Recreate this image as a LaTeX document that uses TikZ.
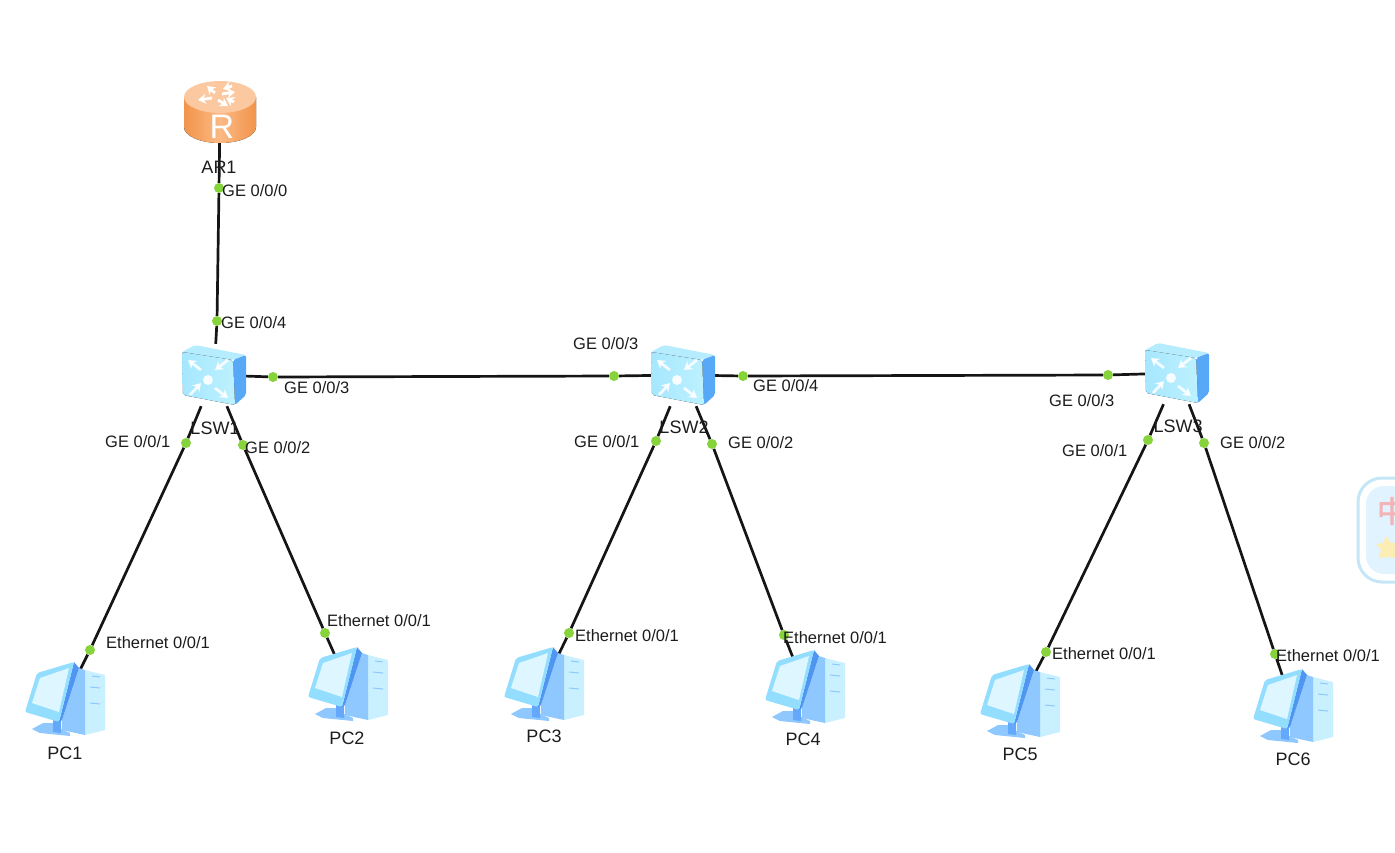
\documentclass[tikz,border=0pt]{standalone}
\usepackage{fontspec}
\usepackage{xcolor}
\setmainfont{Liberation Sans}
\newfontfamily\cjkfont[FakeBold=2.5]{Noto Sans CJK SC}
\usetikzlibrary{arrows.meta}
\definecolor{linkblack}{HTML}{151515}
\definecolor{portgreen}{HTML}{86D33C}
\definecolor{textgrey}{HTML}{1C1C1C}
\definecolor{routerside}{HTML}{F2944A}
\definecolor{routermid}{HTML}{FBB985}
\definecolor{routertop}{HTML}{FBC8A0}
\definecolor{switchfront}{HTML}{A6E7FF}
\definecolor{switchlight}{HTML}{BDF1FF}
\definecolor{switchtop}{HTML}{B5ECFE}
\definecolor{switchright}{HTML}{58A8F8}
\definecolor{pcframe}{HTML}{93DEFF}
\definecolor{pcscreen}{HTML}{DDF6FF}
\definecolor{pcedge}{HTML}{4F95F2}
\definecolor{pcside}{HTML}{8FC8FF}
\definecolor{pcfront}{HTML}{C9F0FF}
\definecolor{pcneck}{HTML}{63A8FB}
\definecolor{imeborder}{HTML}{C4E6F6}
\definecolor{imefill}{HTML}{E0F3FF}
\definecolor{imered}{HTML}{F3B4B8}
\definecolor{imestar}{HTML}{FBEDB4}

\begin{document}
\begin{tikzpicture}[
	x=1pt, y=-1pt,
	every node/.style={font=\fontsize{16.5}{18}\selectfont, text=textgrey},
	link/.style={draw=linkblack, line width=2.7pt},
	port/.style={circle, fill=portgreen, inner sep=0pt, minimum size=10pt},
	portlabel/.style={anchor=west, inner sep=0pt},
	devicelabel/.style={inner sep=0pt, font=\fontsize{18}{20}\selectfont},
	router/.style={inner sep=0pt, minimum width=72pt, minimum height=62pt},
	switch/.style={inner sep=0pt, minimum width=64pt, minimum height=62pt},
	pc/.style={inner sep=0pt, minimum width=70pt, minimum height=60pt},
	whitearrow/.style={draw=white, line width=2.8pt, -{Stealth[length=8pt,width=10pt]}},
	pics/routericon/.style={code={
		\fill[left color=routerside, right color=routerside, middle color=routermid]
			(-36,-15) -- (-36,15) arc[start angle=180, end angle=360, x radius=36pt, y radius=16pt] -- (36,-15) -- cycle;
		\fill[routertop] (0,-15) ellipse[x radius=36pt, y radius=16pt];
		\draw[whitearrow] (-5,-19) -- (-13,-26);
		\draw[whitearrow] (2,-18) -- (15,-20);
		\draw[whitearrow] (-8,-14) -- (-22,-12);
		\draw[whitearrow] (-2,-12) -- (8,-6);
		\draw[whitearrow] (12,-26) -- (3,-23);
		\draw[whitearrow] (14,-10) -- (6,-14);
		\node[text=white, inner sep=0pt, font=\fontsize{34}{34}\selectfont] (routerR) at (2,15) {R};
	}},
	pics/switchicon/.style={code={
		\fill[switchtop, rounded corners=2pt] (-32,-23) -- (-19,-30) -- (32,-20) -- (19,-15) -- cycle;
		\fill[switchright, rounded corners=2pt] (19,-15) -- (32,-20) -- (32,20) -- (21,30) -- cycle;
		\fill[left color=switchfront, right color=switchlight, rounded corners=2pt] (-32,-23) -- (19,-15) -- (21,30) -- (-31,20) -- cycle;
		\fill[white, opacity=.9] (-6,5) circle[radius=5pt];
		\draw[whitearrow, opacity=.85] (-13,-5) -- (-26,-15);
		\draw[whitearrow, opacity=.85] (14,-15) -- (1,-5);
		\draw[whitearrow, opacity=.85] (-24,20) -- (-13,8);
		\draw[whitearrow, opacity=.85] (1,13) -- (14,23);
	}},
	pics/pcicon/.style={code={
		\fill[pcfront] (20,-30) -- (40,-25) -- (40,30) -- (20,35) -- cycle;
		\fill[pcside] (14,-32) -- (20,-30) -- (20,35) -- (-3,30) -- (-3,20) -- cycle;
		\fill[pcside] (-33,29) -- (-22,23) -- (-8,23) -- (-6,28) -- (5,33) -- (5,36) -- (-25,33) -- cycle;
		\fill[pcneck] (-12,20) -- (-4,20) -- (-4,33) -- (-12,32) -- cycle;
		\fill[pcedge] (9,-38) -- (14,-32) -- (-3,20) -- (-6,22) -- cycle;
		\fill[pcframe, rounded corners=2pt] (-40,12) -- (-28,-27) -- (9,-38) -- (-6,22) -- cycle;
		\fill[pcscreen] (-33,3) -- (-25,-22) -- (4,-32) -- (-6,12) -- cycle;
		\draw[pcside, line width=1pt] (27,-24) -- (35,-23) (25,-13) -- (35,-12) (25,3) -- (35,4);
	}}
]
\useasboundingbox (0,0) rectangle (1395,852);

\node[router] (AR1) at (220,112) {};
\node[switch] (LSW1) at (214,375) {};
\node[switch] (LSW2) at (683,375) {};
\node[switch] (LSW3) at (1177,373) {};
\node[pc] (PC1) at (65,700) {};
\node[pc] (PC2) at (348,685) {};
\node[pc] (PC3) at (544,685) {};
\node[pc] (PC4) at (805,688) {};
\node[pc] (PC5) at (1020,702) {};
\node[pc] (PC6) at (1293,707) {};

\node[port] (ar1ge0) at (219,188) {};
\node[port] (lsw1ge4) at (217,321) {};
\node[port] (lsw1ge3) at (273,377) {};
\node[port] (lsw1ge1) at (186,443) {};
\node[port] (lsw1ge2) at (243,445) {};
\node[port] (lsw2ge3) at (614,376) {};
\node[port] (lsw2ge4) at (743,376) {};
\node[port] (lsw2ge1) at (656,441) {};
\node[port] (lsw2ge2) at (712,444) {};
\node[port] (lsw3ge3) at (1108,375) {};
\node[port] (lsw3ge1) at (1148,440) {};
\node[port] (lsw3ge2) at (1204,443) {};
\node[port] (pc1eth) at (90,650) {};
\node[port] (pc2eth) at (325,633) {};
\node[port] (pc3eth) at (569,633) {};
\node[port] (pc4eth) at (784,635) {};
\node[port] (pc5eth) at (1046,652) {};
\node[port] (pc6eth) at (1275,654) {};

\draw[link] (AR1) -- (ar1ge0) -- (lsw1ge4) -- (LSW1);
\draw[link] (LSW1) -- (lsw1ge3) -- (lsw2ge3) -- (LSW2);
\draw[link] (LSW2) -- (lsw2ge4) -- (lsw3ge3) -- (LSW3);
\draw[link] (LSW1) -- (lsw1ge1) -- (pc1eth) -- (PC1);
\draw[link] (LSW1) -- (lsw1ge2) -- (pc2eth) -- (PC2);
\draw[link] (LSW2) -- (lsw2ge1) -- (pc3eth) -- (PC3);
\draw[link] (LSW2) -- (lsw2ge2) -- (pc4eth) -- (PC4);
\draw[link] (LSW3) -- (lsw3ge1) -- (pc5eth) -- (PC5);
\draw[link] (LSW3) -- (lsw3ge2) -- (pc6eth) -- (PC6);

\pic at (AR1) {routericon};
\pic at (LSW1) {switchicon};
\pic at (LSW2) {switchicon};
\pic at (LSW3) {switchicon};
\pic at (PC1) {pcicon};
\pic at (PC2) {pcicon};
\pic at (PC3) {pcicon};
\pic at (PC4) {pcicon};
\pic at (PC5) {pcicon};
\pic at (PC6) {pcicon};

\node[devicelabel] (AR1label) at (219,167) {AR1};
\node[devicelabel] (LSW1label) at (215,428) {LSW1};
\node[devicelabel] (LSW2label) at (684,427) {LSW2};
\node[devicelabel] (LSW3label) at (1178,426) {LSW3};
\node[devicelabel] (PC1label) at (65,753) {PC1};
\node[devicelabel] (PC2label) at (347,738) {PC2};
\node[devicelabel] (PC3label) at (544,736) {PC3};
\node[devicelabel] (PC4label) at (803,739) {PC4};
\node[devicelabel] (PC5label) at (1020,754) {PC5};
\node[devicelabel] (PC6label) at (1293,759) {PC6};

\node[portlabel] (ar1ge0label) at (222,191) {GE 0/0/0};
\node[portlabel] (lsw1ge4label) at (221,323) {GE 0/0/4};
\node[portlabel] (lsw1ge3label) at (284,388) {GE 0/0/3};
\node[portlabel] (lsw1ge1label) at (105,442) {GE 0/0/1};
\node[portlabel] (lsw1ge2label) at (245,448) {GE 0/0/2};
\node[portlabel] (lsw2ge3label) at (573,344) {GE 0/0/3};
\node[portlabel] (lsw2ge4label) at (753,386) {GE 0/0/4};
\node[portlabel] (lsw2ge1label) at (574,442) {GE 0/0/1};
\node[portlabel] (lsw2ge2label) at (728,443) {GE 0/0/2};
\node[portlabel] (lsw3ge3label) at (1049,401) {GE 0/0/3};
\node[portlabel] (lsw3ge1label) at (1062,451) {GE 0/0/1};
\node[portlabel] (lsw3ge2label) at (1220,443) {GE 0/0/2};
\node[portlabel] (pc1ethlabel) at (106,643) {Ethernet 0/0/1};
\node[portlabel] (pc2ethlabel) at (327,621) {Ethernet 0/0/1};
\node[portlabel] (pc3ethlabel) at (575,636) {Ethernet 0/0/1};
\node[portlabel] (pc4ethlabel) at (783,638) {Ethernet 0/0/1};
\node[portlabel] (pc5ethlabel) at (1052,654) {Ethernet 0/0/1};
\node[portlabel] (pc6ethlabel) at (1276,656) {Ethernet 0/0/1};

\begin{scope}
	\clip (1340,460) rectangle (1395,600);
	\draw[draw=imeborder, line width=3pt, fill=white, rounded corners=24pt] (1358,478) rectangle (1440,582);
	\fill[imefill, rounded corners=18pt] (1366,486) rectangle (1440,574);
	\node[text=imered, inner sep=0pt, font=\cjkfont\fontsize{30}{30}\selectfont] (imechar) at (1392,511) {中};
	\fill[imestar] (1386,536) -- (1390,542) -- (1398,544) -- (1398,558) -- (1386,557) -- (1379,558) -- (1381,550) -- (1376,544) -- (1383,543) -- cycle;
\end{scope}
\end{tikzpicture}
\end{document}
